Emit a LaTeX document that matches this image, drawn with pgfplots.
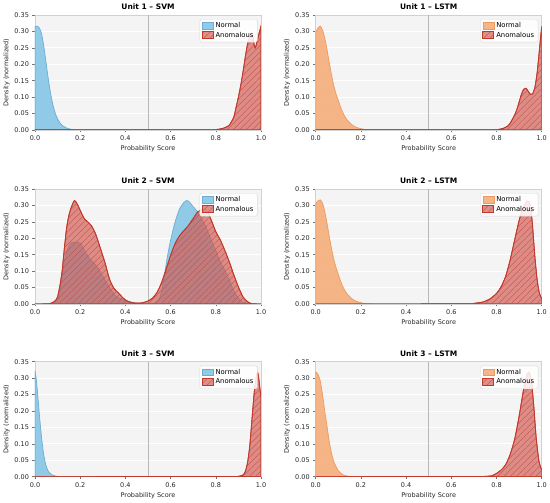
\documentclass[border=0pt]{standalone}
\usepackage{fontspec}
\setmainfont{DejaVu Sans}
\usepackage{pgfplots}
\pgfplotsset{compat=1.18}
\usetikzlibrary{patterns.meta}
\definecolor{bg}{HTML}{F4F4F4}
\definecolor{svmfill}{HTML}{87C6E6}
\definecolor{svmedge}{HTML}{6AAED6}
\definecolor{lstmfill}{HTML}{F4A972}
\definecolor{lstmedge}{HTML}{EE9A5E}
\definecolor{anfill}{HTML}{D4564C}
\definecolor{anedge}{HTML}{C0392B}
\definecolor{anhatch}{HTML}{BF4F47}
\pgfplotsset{
  panel/.style={
    scale only axis, width=226pt, height=115pt,
    xmin=0, xmax=1, ymin=0, ymax=0.35,
    axis background/.style={fill=bg},
    axis line style={draw=black!18, line width=0.6pt},
    ymajorgrids, grid style={white, line width=0.8pt},
    xtick={0,0.2,0.4,0.6,0.8,1}, ytick={0,0.05,0.1,0.15,0.2,0.25,0.3,0.35},
    xtick pos=left, ytick pos=left,
    tick align=outside, major tick length=2.5pt,
    tick style={black!55, line width=0.5pt},
    tick label style={font=\fontsize{6.5}{7}\selectfont, color=black!85},
    /pgf/number format/assume math mode=true,
    xticklabel style={/pgf/number format/.cd, fixed, fixed zerofill, precision=1},
    yticklabel style={/pgf/number format/.cd, fixed, fixed zerofill, precision=2},
    xlabel={Probability Score}, ylabel={Density (normalized)},
    label style={font=\fontsize{6.5}{7}\selectfont, color=black!85},
    xlabel style={yshift=2pt}, ylabel style={yshift=-2pt},
    title style={font=\bfseries\fontsize{7.5}{8}\selectfont, yshift=-4pt},
    legend style={at={(0.985,0.965)}, anchor=north east, font=\fontsize{6.8}{7.5}\selectfont,
      draw=black!15, fill=white, fill opacity=0.85, text opacity=1, rounded corners=1.5pt,
      inner xsep=2pt, inner ysep=1.5pt, row sep=-1.5pt,
      cells={anchor=west}},
    legend image code/.code={\draw[##1, sharp corners] (0pt,-3pt) rectangle (11pt,3.5pt);},
  },
  vl/.style={forget plot, black!28, line width=0.8pt},
  svm/.style={fill=svmfill, fill opacity=0.9, draw=svmedge, line width=0.7pt, smooth, tension=0.4},
  lstm/.style={fill=lstmfill, fill opacity=0.85, draw=lstmedge, line width=0.7pt, smooth, tension=0.4},
  anom/.style={fill=anfill, fill opacity=0.66, draw=anedge, line width=0.8pt, smooth, tension=0.4,
    postaction={pattern={Lines[angle=45,distance=4.5pt,line width=0.35pt]}, pattern color=anhatch}},
}
\begin{document}
\begin{tikzpicture}
\useasboundingbox (0,0) rectangle (550pt,503pt);
% ---------------- Row 1
\begin{axis}[panel, at={(35pt,373pt)}, anchor=south west, title={Unit 1 – SVM}]
\addplot[vl] coordinates {(0.5,0) (0.5,0.35)};
\addplot[svm] coordinates {(0,0.315)(0.01,0.316)(0.02,0.31)(0.03,0.29)(0.04,0.25)(0.05,0.2)(0.06,0.15)(0.07,0.108)(0.08,0.075)(0.09,0.05)(0.1,0.034)(0.11,0.022)(0.12,0.014)(0.14,0.006)(0.16,0.002)(0.18,0.0007)(0.2,0.0002)(0.3,0)(1,0)} \closedcycle;
\addlegendentry{Normal}
\addplot[anom] coordinates {(0,0.0005)(0.78,0.0008)(0.8,0.0015)(0.82,0.003)(0.84,0.007)(0.86,0.015)(0.88,0.04)(0.89,0.07)(0.9,0.1)(0.91,0.135)(0.92,0.175)(0.93,0.22)(0.94,0.26)(0.95,0.283)(0.96,0.29)(0.965,0.28)(0.97,0.258)(0.975,0.25)(0.98,0.262)(0.99,0.29)(1,0.316)} \closedcycle;
\addlegendentry{Anomalous}
\end{axis}
\begin{axis}[panel, at={(315.7pt,373pt)}, anchor=south west, title={Unit 1 – LSTM}]
\addplot[vl] coordinates {(0.5,0) (0.5,0.35)};
\addplot[lstm] coordinates {(0,0.296)(0.01,0.31)(0.02,0.316)(0.03,0.305)(0.04,0.28)(0.05,0.245)(0.06,0.205)(0.07,0.168)(0.08,0.135)(0.09,0.11)(0.1,0.09)(0.11,0.07)(0.12,0.053)(0.13,0.04)(0.14,0.03)(0.16,0.016)(0.18,0.008)(0.2,0.004)(0.22,0.0015)(0.25,0.0005)(0.3,0)(1,0)} \closedcycle;
\addlegendentry{Normal}
\addplot[anom] coordinates {(0,0.0003)(0.78,0.0008)(0.81,0.002)(0.83,0.005)(0.85,0.012)(0.86,0.02)(0.87,0.032)(0.88,0.045)(0.89,0.062)(0.9,0.085)(0.91,0.108)(0.92,0.124)(0.93,0.127)(0.94,0.118)(0.95,0.108)(0.96,0.11)(0.97,0.13)(0.98,0.175)(0.99,0.245)(1,0.316)} \closedcycle;
\addlegendentry{Anomalous}
\end{axis}
% ---------------- Row 2
\begin{axis}[panel, at={(35pt,199pt)}, anchor=south west, title={Unit 2 – SVM}]
\addplot[vl] coordinates {(0.5,0) (0.5,0.35)};
\addplot[svm] coordinates {(0,0)(0.08,0.0005)(0.1,0.01)(0.11,0.04)(0.12,0.083)(0.13,0.13)(0.14,0.16)(0.15,0.176)(0.16,0.186)(0.18,0.188)(0.2,0.185)(0.21,0.175)(0.22,0.162)(0.24,0.14)(0.26,0.125)(0.28,0.108)(0.3,0.085)(0.32,0.062)(0.34,0.04)(0.36,0.022)(0.38,0.016)(0.4,0.012)(0.42,0.007)(0.45,0.002)(0.5,0.0005)(0.53,0.003)(0.55,0.015)(0.56,0.04)(0.57,0.075)(0.58,0.12)(0.59,0.16)(0.6,0.194)(0.62,0.25)(0.64,0.29)(0.66,0.31)(0.67,0.315)(0.68,0.313)(0.7,0.296)(0.72,0.28)(0.74,0.256)(0.76,0.229)(0.78,0.194)(0.8,0.163)(0.82,0.128)(0.84,0.103)(0.86,0.073)(0.88,0.04)(0.9,0.018)(0.92,0.005)(0.94,0.001)(0.96,0)(1,0)} \closedcycle;
\addlegendentry{Normal}
\addplot[anom] coordinates {(0,0)(0.05,0.0005)(0.07,0.002)(0.09,0.01)(0.1,0.022)(0.11,0.055)(0.12,0.1)(0.13,0.17)(0.14,0.232)(0.15,0.27)(0.16,0.293)(0.17,0.31)(0.175,0.315)(0.18,0.312)(0.19,0.3)(0.2,0.285)(0.21,0.27)(0.22,0.258)(0.23,0.252)(0.25,0.238)(0.27,0.21)(0.29,0.168)(0.31,0.125)(0.33,0.075)(0.35,0.047)(0.37,0.033)(0.39,0.018)(0.41,0.008)(0.44,0.003)(0.47,0.003)(0.5,0.009)(0.52,0.018)(0.54,0.035)(0.56,0.065)(0.58,0.105)(0.6,0.148)(0.62,0.184)(0.64,0.208)(0.66,0.224)(0.68,0.24)(0.7,0.26)(0.72,0.28)(0.74,0.288)(0.76,0.285)(0.78,0.255)(0.8,0.22)(0.82,0.195)(0.84,0.163)(0.86,0.128)(0.88,0.088)(0.9,0.052)(0.92,0.022)(0.94,0.007)(0.96,0.001)(1,0)} \closedcycle;
\addlegendentry{Anomalous}
\end{axis}
\begin{axis}[panel, at={(315.7pt,199pt)}, anchor=south west, title={Unit 2 – LSTM}]
\addplot[vl] coordinates {(0.5,0) (0.5,0.35)};
\addplot[lstm] coordinates {(0,0.305)(0.01,0.314)(0.02,0.317)(0.03,0.307)(0.04,0.282)(0.05,0.246)(0.06,0.206)(0.07,0.169)(0.08,0.136)(0.09,0.111)(0.1,0.09)(0.11,0.07)(0.12,0.053)(0.13,0.04)(0.14,0.03)(0.16,0.016)(0.18,0.008)(0.2,0.004)(0.22,0.0015)(0.25,0.0005)(0.3,0)(1,0)} \closedcycle;
\addlegendentry{Normal}
\addplot[anom] coordinates {(0,0)(0.65,0.0005)(0.7,0.002)(0.74,0.006)(0.77,0.015)(0.8,0.032)(0.82,0.052)(0.84,0.083)(0.86,0.133)(0.88,0.194)(0.9,0.254)(0.91,0.278)(0.92,0.296)(0.935,0.313)(0.945,0.31)(0.95,0.295)(0.955,0.27)(0.96,0.234)(0.97,0.143)(0.98,0.073)(0.99,0.032)(1,0.017)} \closedcycle;
\addlegendentry{Anomalous}
\end{axis}
% ---------------- Row 3
\begin{axis}[panel, at={(35pt,26.3pt)}, anchor=south west, title={Unit 3 – SVM}]
\addplot[vl] coordinates {(0.5,0) (0.5,0.35)};
\addplot[svm] coordinates {(0,0.322)(0.005,0.3)(0.01,0.266)(0.015,0.225)(0.02,0.184)(0.025,0.147)(0.03,0.113)(0.035,0.085)(0.04,0.061)(0.045,0.044)(0.05,0.031)(0.06,0.015)(0.07,0.008)(0.08,0.004)(0.1,0.001)(0.12,0)(1,0)} \closedcycle;
\addlegendentry{Normal}
\addplot[anom] coordinates {(0,0)(0.88,0.0005)(0.9,0.001)(0.92,0.005)(0.93,0.015)(0.94,0.041)(0.95,0.092)(0.96,0.174)(0.97,0.256)(0.98,0.307)(0.985,0.317)(0.99,0.3)(0.995,0.27)(1,0.24)} \closedcycle;
\addlegendentry{Anomalous}
\end{axis}
\begin{axis}[panel, at={(315.7pt,26.3pt)}, anchor=south west, title={Unit 3 – LSTM}]
\addplot[vl] coordinates {(0.5,0) (0.5,0.35)};
\addplot[lstm] coordinates {(0,0.319)(0.01,0.312)(0.02,0.292)(0.03,0.251)(0.04,0.2)(0.05,0.154)(0.06,0.107)(0.07,0.072)(0.08,0.046)(0.09,0.031)(0.1,0.018)(0.12,0.006)(0.14,0.002)(0.16,0.0005)(0.2,0)(1,0)} \closedcycle;
\addlegendentry{Normal}
\addplot[anom] coordinates {(0,0)(0.7,0.0005)(0.75,0.001)(0.78,0.003)(0.8,0.01)(0.82,0.02)(0.84,0.036)(0.86,0.067)(0.88,0.113)(0.9,0.184)(0.92,0.266)(0.935,0.312)(0.945,0.317)(0.955,0.287)(0.965,0.215)(0.975,0.123)(0.985,0.061)(0.99,0.041)(1,0.02)} \closedcycle;
\addlegendentry{Anomalous}
\end{axis}
\end{tikzpicture}
\end{document}
